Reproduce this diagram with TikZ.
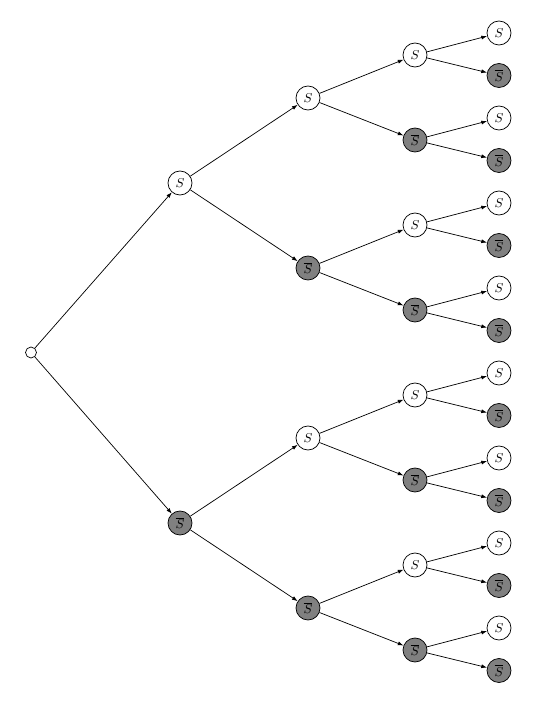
\documentclass[tikz,border=0pt]{standalone}
\usepackage{amsmath}
\usepackage{amssymb}
\usetikzlibrary{arrows.meta}

\begin{document}
\begin{tikzpicture}[x=0.7pt, y=-0.7pt, >={Latex[length=4pt,width=2.8pt]},
  every path/.style={line width=0.5pt},
  state/.style={circle, draw, minimum size=16.8pt, inner sep=0pt, font=\small},
  yes/.style={state, fill=white},
  no/.style={state, fill=gray}]
  \useasboundingbox (0,0) rectangle (539,705);
  \node[circle, draw, minimum size=7.7pt, inner sep=0pt] (r) at (31,352.5) {};
  % first level
  \node[yes] (a0) at (180,183) {$S$};
  \node[no] (a1) at (180,523) {$\overline{S}$};
  \draw[->] (r) -- (a0);
  \draw[->] (r) -- (a1);
  % second level
  \foreach \k in {0,...,3} {
    \pgfmathtruncatemacro\p{\k/2}
    \pgfmathsetmacro\y{98+170*\k}
    \ifodd\k \node[no] (b\k) at (308,\y) {$\overline{S}$};
    \else \node[yes] (b\k) at (308,\y) {$S$}; \fi
    \draw[->] (a\p) -- (b\k);
  }
  % third level
  \foreach \k in {0,...,7} {
    \pgfmathtruncatemacro\p{\k/2}
    \pgfmathsetmacro\y{55+85*\k}
    \ifodd\k \node[no] (c\k) at (415,\y) {$\overline{S}$};
    \else \node[yes] (c\k) at (415,\y) {$S$}; \fi
    \draw[->] (b\p) -- (c\k);
  }
  % leaves
  \foreach \k in {0,...,15} {
    \pgfmathtruncatemacro\p{\k/2}
    \pgfmathsetmacro\y{33+42.5*\k}
    \ifodd\k \node[no] (d\k) at (499,\y) {$\overline{S}$};
    \else \node[yes] (d\k) at (499,\y) {$S$}; \fi
    \draw[->] (c\p) -- (d\k);
  }
\end{tikzpicture}
\end{document}
